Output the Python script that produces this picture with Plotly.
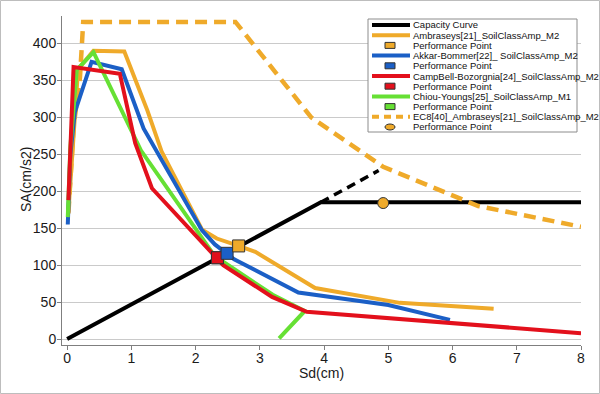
import plotly.graph_objects as go

# ---------------- data ----------------
capacity_x = [0.0, 3.95, 8.0]
capacity_y = [0, 185, 185]
capacity_ext_x = [3.95, 4.85]
capacity_ext_y = [185, 228]

ambraseys_x = [0.02, 0.17, 0.41, 0.89, 1.25, 1.47, 2.10, 2.33, 2.67, 2.93, 3.86, 5.18, 6.64]
ambraseys_y = [172, 365, 390, 389, 309, 254, 148, 136, 126, 118, 69, 49, 41]

akkar_x = [0.01, 0.05, 0.12, 0.38, 0.85, 1.19, 2.10, 2.30, 2.60, 3.60, 5.00, 5.96]
akkar_y = [155, 250, 307, 375, 365, 285, 147, 128, 108, 63, 46, 26]

campbell_x = [0.02, 0.06, 0.10, 0.82, 1.06, 1.32, 2.33, 2.43, 3.19, 3.73, 8.0]
campbell_y = [188, 290, 368, 359, 265, 204, 111, 100, 57, 37, 8]

chiou_x = [0.01, 0.05, 0.15, 0.41, 1.15, 2.30, 3.20, 3.70, 3.30]
chiou_y = [165, 260, 364, 388, 255, 112, 60, 38, 1]

ec8_x = [0.02, 0.10, 0.20, 0.25, 2.62, 3.80, 4.92, 6.40, 8.0]
ec8_y = [170, 287, 354, 429, 429, 300, 233, 180, 152]

pp_ambraseys = (2.67, 126)
pp_akkar = (2.49, 116)
pp_campbell = (2.34, 110)
pp_chiou = (2.34, 110)
pp_ec8 = (4.92, 184)

x_ticks = [0, 1, 2, 3, 4, 5, 6, 7, 8]
y_ticks = [0, 50, 100, 150, 200, 250, 300, 350, 400]

x_title = "Sd(cm)"
y_title = "SA(cm/s2)"

legend_labels = [
    "Capacity Curve",
    "Ambraseys[21]_SoilClassAmp_M2",
    "Performance Point",
    "Akkar-Bommer[22]_ SoilClassAmp_M2",
    "Performance Point",
    "CampBell-Bozorgnia[24]_SoilClassAmp_M2",
    "Performance Point",
    "Chiou-Youngs[25]_SoilClassAmp_M1",
    "Performance Point",
    "EC8[40]_Ambraseys[21]_SoilClassAmp_M2",
    "Performance Point",
]

# ---------------- styles ----------------
ORANGE = "#EFAA2A"
BLUE = "#1B5FC6"
RED = "#E3101C"
GREEN = "#66E034"
BLACK = "#000000"
FONT = "Liberation Sans, Arial, sans-serif"
LW = 4

fig = go.Figure()

fig.add_trace(go.Scatter(x=capacity_x, y=capacity_y, mode="lines",
                         line=dict(color=BLACK, width=LW), showlegend=False))
fig.add_trace(go.Scatter(x=capacity_ext_x, y=capacity_ext_y, mode="lines",
                         line=dict(color=BLACK, width=LW - 0.5, dash="9px,6px"), showlegend=False))
fig.add_trace(go.Scatter(x=ec8_x, y=ec8_y, mode="lines",
                         line=dict(color=ORANGE, width=LW + 0.5, dash="12px,7px"), showlegend=False))
fig.add_trace(go.Scatter(x=ambraseys_x, y=ambraseys_y, mode="lines",
                         line=dict(color=ORANGE, width=LW), showlegend=False))
fig.add_trace(go.Scatter(x=akkar_x, y=akkar_y, mode="lines",
                         line=dict(color=BLUE, width=LW), showlegend=False))
fig.add_trace(go.Scatter(x=chiou_x, y=chiou_y, mode="lines",
                         line=dict(color=GREEN, width=LW), showlegend=False))
fig.add_trace(go.Scatter(x=campbell_x, y=campbell_y, mode="lines",
                         line=dict(color=RED, width=LW), showlegend=False))

for (pt, col, sym, size) in [(pp_chiou, GREEN, "square", 12),
                             (pp_campbell, RED, "square", 12),
                             (pp_akkar, BLUE, "square", 12),
                             (pp_ambraseys, ORANGE, "square", 12),
                             (pp_ec8, ORANGE, "circle", 11)]:
    fig.add_trace(go.Scatter(x=[pt[0]], y=[pt[1]], mode="markers",
                             marker=dict(color=col, symbol=sym, size=size,
                                         line=dict(color="#333333", width=1)),
                             showlegend=False))

# ---------------- layout ----------------
W, H = 600, 394
ML, MR, MT, MB = 62, 19, 16, 49
PW, PH = W - ML - MR, H - MT - MB


def px(xp):
    return (xp - ML) / PW


def py(yp):
    return (H - MB - yp) / PH


shapes = []
annotations = []

# outer frame
shapes.append(dict(type="rect", xref="paper", yref="paper",
                   x0=px(0.5), x1=px(W - 0.5), y0=py(H - 0.5), y1=py(0.5),
                   line=dict(color="#BDBDBD", width=1), fillcolor="rgba(0,0,0,0)"))

# custom legend
shapes.append(dict(type="rect", xref="paper", yref="paper",
                   x0=px(368), x1=px(577), y0=py(132), y1=py(19),
                   line=dict(color="#8C8C8C", width=1), fillcolor="white"))

swatches = [
    ("line", BLACK, None), ("line", ORANGE, None), ("rect", ORANGE, None),
    ("line", BLUE, None), ("rect", BLUE, None), ("line", RED, None),
    ("rect", RED, None), ("line", GREEN, None), ("rect", GREEN, None),
    ("line", ORANGE, "dash"), ("circle", ORANGE, None),
]
for i, (label, (kind, col, dash)) in enumerate(zip(legend_labels, swatches)):
    yc = 25 + i * 10.2
    if kind == "line":
        shapes.append(dict(type="line", xref="paper", yref="paper",
                           x0=px(372), x1=px(410), y0=py(yc), y1=py(yc),
                           line=dict(color=col, width=LW, dash="7px,5px" if dash else "solid")))
    else:
        shapes.append(dict(type=kind, xref="paper", yref="paper",
                           x0=px(385), x1=px(395), y0=py(yc + 3), y1=py(yc - 3),
                           line=dict(color="#333333", width=1), fillcolor=col))
    annotations.append(dict(text=label, xref="paper", yref="paper",
                            x=px(411), y=py(yc), xanchor="left", yanchor="middle",
                            showarrow=False, font=dict(family=FONT, size=9.5, color="#111111")))

# axis titles
annotations.append(dict(text=x_title, xref="paper", yref="paper",
                        x=px(321), y=py(373), xanchor="center", yanchor="middle",
                        showarrow=False, font=dict(family=FONT, size=14, color="#1A1A1A")))
annotations.append(dict(text=y_title, xref="paper", yref="paper",
                        x=px(26), y=py(180), xanchor="center", yanchor="middle", textangle=-90,
                        showarrow=False, font=dict(family=FONT, size=14, color="#1A1A1A")))

fig.update_layout(
    width=W, height=H,
    margin=dict(l=ML, r=MR, t=MT, b=MB, pad=0, autoexpand=False),
    paper_bgcolor="white", plot_bgcolor="white",
    font=dict(family=FONT, size=14, color="#1A1A1A"),
    showlegend=False,
    shapes=shapes, annotations=annotations,
    xaxis=dict(range=[-0.08, 8.0], tickvals=x_ticks, showgrid=False, zeroline=False,
               showline=True, linecolor="#7F7F7F", linewidth=1, automargin=False,
               ticks="outside", ticklen=4, tickcolor="#7F7F7F", ticklabelstandoff=-4,
               tickfont=dict(size=14, family=FONT)),
    yaxis=dict(range=[-8, 437], tickvals=y_ticks, showgrid=True, gridcolor="#CACACA",
               gridwidth=1, zeroline=False, automargin=False,
               showline=True, linecolor="#7F7F7F", linewidth=1,
               ticks="outside", ticklen=4, tickcolor="#7F7F7F", ticklabelstandoff=-2,
               tickfont=dict(size=14, family=FONT)),
)

fig.write_html("out.html", config={"displayModeBar": False},
               post_script="document.body.style.margin='0';document.body.style.overflow='hidden';")
